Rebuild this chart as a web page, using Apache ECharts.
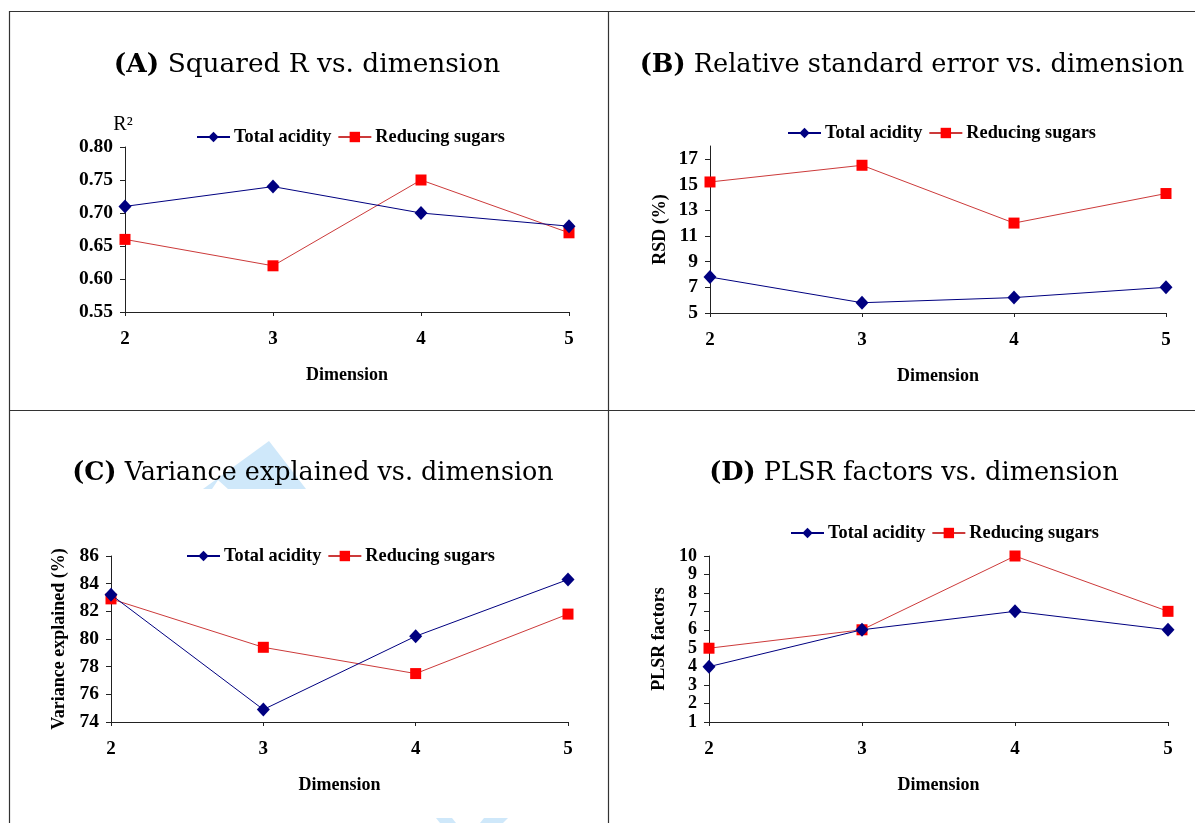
<!DOCTYPE html>
<html>
<head>
<meta charset="utf-8">
<script src="https://cdn.jsdelivr.net/npm/echarts@6/dist/echarts.min.js"></script>
<style>
html,body{margin:0;padding:0;background:#fff;}
#chart{width:1195px;height:823px;}
</style>
</head>
<body>
<div id="chart"></div>
<script>
// ---- data ----
const dims = ['2', '3', '4', '5'];
const seriesNames = ['Total acidity', 'Reducing sugars'];
const r2Acidity = [0.71, 0.74, 0.70, 0.68];
const r2Sugars = [0.66, 0.62, 0.75, 0.67];
const rsdAcidity = [7.8, 5.8, 6.2, 7.0];
const rsdSugars = [15.2, 16.5, 12.0, 14.3];
const varAcidity = [83.2, 74.9, 80.2, 84.3];
const varSugars = [82.9, 79.4, 77.5, 81.8];
const plsrAcidity = [4, 6, 7, 6];
const plsrSugars = [5, 6, 10, 7];
const rsdTicks = [5, 7, 9, 11, 13, 15, 17];
const titlesText = [
  ['(A)', 'Squared R vs. dimension'],
  ['(B)', 'Relative standard error vs. dimension'],
  ['(C)', 'Variance explained vs. dimension'],
  ['(D)', 'PLSR factors vs. dimension']
];
const yNames = ['R\u00b2', 'RSD (%)', 'Variance explained (%)', 'PLSR factors'];
const xName = 'Dimension';

// ---- layout ----
const grids = [
  {left: 125, top: 147, width: 444, height: 165},
  {left: 710, top: 146, width: 456, height: 167},
  {left: 111, top: 556, width: 457, height: 166},
  {left: 709, top: 556, width: 459, height: 166}
];
const titlePos = [[302, 44], [907, 44], [308, 452], [909, 452]];
const titleSize = [26.4, 25.6, 25.4, 25.6];
const legendPos = [[196, 128], [787, 124], [186, 547], [790, 524]];

const FONT = 'Liberation Serif';
const NAVY = '#000080';
const RED = '#ff0000';
const RED_LINE = '#cc3a3a';
const AX = '#222';

function xAxis(i) {
  return {
    type: 'category', gridIndex: i, data: dims, boundaryGap: false,
    name: xName, nameLocation: 'middle', nameGap: 54,
    nameTextStyle: {fontFamily: FONT, fontWeight: 'bold', fontSize: 18, color: '#000'},
    axisLine: {lineStyle: {color: AX, width: 1}},
    axisTick: {alignWithLabel: true, length: 4, lineStyle: {color: AX}},
    axisLabel: {fontFamily: FONT, fontWeight: 'bold', fontSize: 19, color: '#000', margin: 18},
    splitLine: {show: false}
  };
}
function yAxis(i, min, max, interval, extra) {
  const base = {
    type: 'value', gridIndex: i, min: min, max: max, interval: interval,
    axisLine: {show: true, lineStyle: {color: AX, width: 1}},
    axisTick: {show: true, inside: false, length: 5, lineStyle: {color: AX}},
    axisLabel: {fontFamily: FONT, fontWeight: 'bold', fontSize: 19.5, color: '#000', margin: 12},
    splitLine: {show: false},
    name: yNames[i], nameLocation: 'middle', nameGap: 41,
    nameTextStyle: {fontFamily: FONT, fontWeight: 'bold', fontSize: 18, color: '#000'}
  };
  return Object.assign(base, extra || {});
}

const yAxes = [
  yAxis(0, 0.55, 0.80, 0.05, {
    nameLocation: 'end', nameGap: 12,
    nameTextStyle: {fontFamily: FONT, fontWeight: 'normal', fontSize: 20, color: '#000', align: 'center', padding: [0, 4, 0, 0]},
    axisLabel: {fontFamily: FONT, fontWeight: 'bold', fontSize: 19.5, color: '#000', margin: 12, formatter: v => v.toFixed(2)}
  }),
  yAxis(1, 5, 18, 2, {
    nameGap: 41,
    axisTick: {show: true, length: 5, lineStyle: {color: AX}, customValues: rsdTicks},
    axisLabel: {fontFamily: FONT, fontWeight: 'bold', fontSize: 19.5, color: '#000', margin: 12, customValues: rsdTicks}
  }),
  yAxis(2, 74, 86, 2, {nameGap: 43}),
  yAxis(3, 1, 10, 1, {
    nameGap: 41,
    axisLabel: {fontFamily: FONT, fontWeight: 'bold', fontSize: 18, color: '#000', margin: 12}
  })
];

const dataSets = [
  [r2Acidity, r2Sugars],
  [rsdAcidity, rsdSugars],
  [varAcidity, varSugars],
  [plsrAcidity, plsrSugars]
];

const series = [];
dataSets.forEach((pair, i) => {
  series.push({
    name: seriesNames[0], type: 'line', xAxisIndex: i, yAxisIndex: i, data: pair[0],
    symbol: 'diamond', symbolSize: [13, 14], showAllSymbol: true,
    lineStyle: {color: NAVY, width: 1}, itemStyle: {color: NAVY},
    animation: false, z: 3
  });
  series.push({
    name: seriesNames[1], type: 'line', xAxisIndex: i, yAxisIndex: i, data: pair[1],
    symbol: 'rect', symbolSize: 11, showAllSymbol: true,
    lineStyle: {color: RED_LINE, width: 1}, itemStyle: {color: RED},
    animation: false, z: 2
  });
});

const titles = titlesText.map((t, i) => ({
  text: '{b|' + t[0] + '} ' + t[1],
  left: titlePos[i][0], top: titlePos[i][1], textAlign: 'center',
  textStyle: {
    fontFamily: 'DejaVu Serif', fontSize: titleSize[i], fontWeight: 'normal', color: '#000', lineHeight: 32,
    rich: {b: {fontFamily: 'DejaVu Serif', fontSize: titleSize[i], fontWeight: 'bold', color: '#000', lineHeight: 32}}
  }
}));

const legends = legendPos.map(p => ({
  data: seriesNames, left: p[0], top: p[1], padding: 0,
  itemWidth: 33, itemHeight: 13, itemGap: 6, selectedMode: false,
  textStyle: {fontFamily: FONT, fontWeight: 'bold', fontSize: 18.3, color: '#000', padding: [0, 0, 0, -1]}
}));

const lineStyle = {stroke: '#333', lineWidth: 1.2};
const WM = '#cfe8fa';
const graphic = [
  {type: 'polygon', shape: {points: [[203, 489], [269, 441], [306, 489], [228, 489], [218, 480], [212, 489]]}, style: {fill: WM}, z: -1},
  {type: 'polygon', shape: {points: [[436, 818], [452, 818], [456, 823], [440, 823]]}, style: {fill: WM}, z: -1},
  {type: 'polygon', shape: {points: [[484, 818], [508, 818], [503, 823], [480, 823]]}, style: {fill: WM}, z: -1},
  {type: 'line', shape: {x1: 9.5, y1: 11, x2: 9.5, y2: 823}, style: lineStyle},
  {type: 'line', shape: {x1: 9, y1: 11.5, x2: 1195, y2: 11.5}, style: lineStyle},
  {type: 'line', shape: {x1: 608.5, y1: 11, x2: 608.5, y2: 823}, style: lineStyle},
  {type: 'line', shape: {x1: 9, y1: 410.5, x2: 1195, y2: 410.5}, style: lineStyle}
];

const chart = echarts.init(document.getElementById('chart'), null, {renderer: 'canvas'});
chart.setOption({
  backgroundColor: '#fff',
  animation: false,
  title: titles,
  legend: legends,
  grid: grids,
  xAxis: [0, 1, 2, 3].map(xAxis),
  yAxis: yAxes,
  series: series,
  graphic: graphic
});
</script>
</body>
</html>
